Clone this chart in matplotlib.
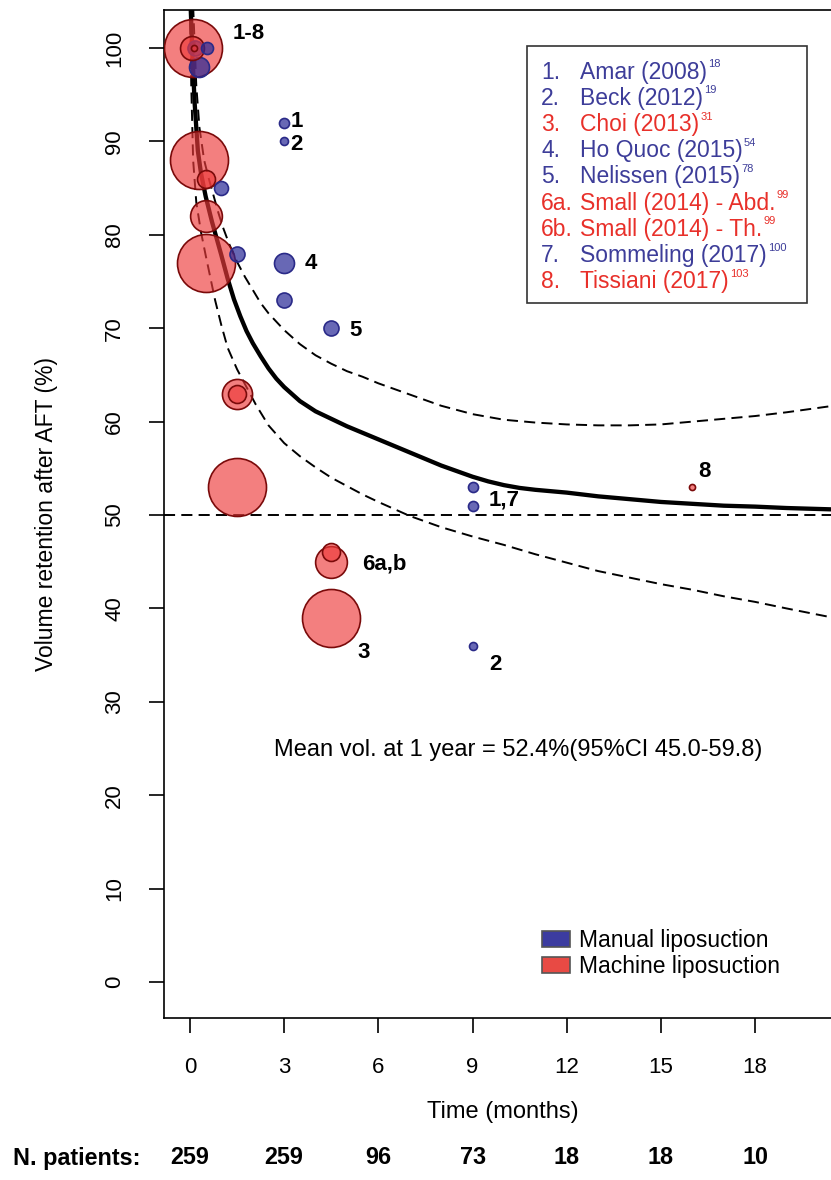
import matplotlib
matplotlib.use("Agg")
import matplotlib.pyplot as plt
from matplotlib.patches import Patch, Rectangle
from matplotlib.transforms import blended_transform_factory
import numpy as np

# ---- data ----
# study number of each bubble (draw order), time (months), retention (%), weight
pt_study = [1, 1, 2, 2, 3, 3, 3, 3, 3, 4, 4, 5, 5, 5, 5, 5,
            6, 6, 6, 6, 6, 6, 6, 7, 7, 8, 8]
pt_t = [3, 9, 3, 9, 0.1, 0.3, 0.5, 1.5, 4.5, 0.3, 3, 0.15, 1.0, 1.5, 3, 4.5,
        0.05, 0.5, 0.5, 1.5, 1.5, 4.5, 4.5, 0.55, 9, 0.12, 16]
pt_v = [92, 53, 90, 36, 100, 88, 77, 53, 39, 98, 77, 100, 85, 78, 73, 70,
        100, 86, 82, 63, 63, 45, 46, 100, 51, 100, 53]
pt_w = [3.0, 3.0, 1.9, 1.9, 100, 100, 100, 100, 100, 11.9, 11.9, 6.7, 5.8, 6.7, 6.7, 6.7,
        17, 9.6, 30, 27, 9.6, 30, 9.6, 4.3, 3.0, 1.1, 1.1]
machine_studies = [3, 6, 8]

# pooled curve and 95% band
mean_t = [0.02, 0.08, 0.15, 0.25, 0.35, 0.5, 0.7, 0.85, 1.0, 1.2, 1.4, 1.6, 1.8,
          2.0, 2.25, 2.5, 2.75, 3.0, 3.5, 4.0, 4.5, 5.0, 5.5, 6.0, 6.5, 7.0, 7.5,
          8.0, 8.5, 9.0, 9.5, 10.0, 10.5, 11.0, 12.0, 13.0, 14.0, 15.0, 16.0,
          17.0, 18.0, 19.0, 20.5]
mean_v = [104.5, 99, 94, 89, 86.6, 84.1, 81.4, 79.6, 77.8, 75.3, 73.1, 71.3, 69.7,
          68.4, 67.0, 65.7, 64.6, 63.7, 62.2, 61.1, 60.3, 59.5, 58.8, 58.1, 57.4,
          56.7, 56.0, 55.3, 54.7, 54.1, 53.6, 53.2, 52.9, 52.7, 52.4, 52.0, 51.7,
          51.4, 51.2, 51.0, 50.9, 50.75, 50.6]
upper_t = [0.1, 0.2, 0.3, 0.45, 0.6, 0.75, 0.9, 1.05, 1.25, 1.5, 1.75, 2.0, 2.25,
           2.5, 3.0, 3.5, 4.0, 4.5, 5.0, 5.5, 6.0, 7.0, 8.0, 9.0, 10.0, 11.0, 12.0,
           13.0, 14.0, 15.0, 16.0, 17.0, 18.0, 19.0, 20.5]
upper_v = [104.5, 96, 91.5, 88, 86, 84.2, 82.4, 80.8, 79, 77.1, 75.5, 74.1, 72.7,
           71.6, 69.8, 68.3, 67.1, 66.2, 65.4, 64.8, 64.1, 62.9, 61.7, 60.8, 60.2,
           59.9, 59.7, 59.6, 59.6, 59.7, 60.0, 60.3, 60.6, 61.0, 61.7]
lower_t = [0.0, 0.04, 0.1, 0.2, 0.35, 0.5, 0.65, 0.8, 1.0, 1.2, 1.5, 1.8, 2.1, 2.5,
           3.0, 3.5, 4.0, 4.5, 5.0, 5.5, 6.0, 7.0, 8.0, 9.0, 10.0, 11.0, 12.0, 13.0,
           14.0, 15.0, 16.0, 17.0, 18.0, 19.0, 20.5]
lower_v = [104.5, 96, 88, 83.5, 80.3, 77.8, 75.4, 73, 70.3, 67.9, 65.6, 63.7, 61.8,
           59.6, 57.7, 56.3, 55.1, 54.0, 53.1, 52.2, 51.4, 49.9, 48.7, 47.7, 46.8,
           45.8, 44.9, 44.0, 43.3, 42.6, 42.0, 41.3, 40.7, 40.0, 39.0]

# point labels
ann_text = ["1-8", "1", "2", "4", "5", "1,7", "8", "6a,b", "3", "2"]
ann_t = [1.37, 3.2, 3.2, 3.66, 5.06, 9.52, 16.2, 5.48, 5.32, 9.52]
ann_v = [101.6, 92.1, 89.7, 76.9, 69.8, 51.6, 54.7, 44.8, 35.3, 34.0]

# study list
study_num = ["1.", "2.", "3.", "4.", "5.", "6a.", "6b.", "7.", "8."]
study_name = ["Amar (2008)", "Beck (2012)", "Choi (2013)", "Ho Quoc (2015)",
              "Nelissen (2015)", "Small (2014) - Abd.", "Small (2014) - Th.",
              "Sommeling (2017)", "Tissiani (2017)"]
study_ref = ["18", "19", "31", "54", "78", "99", "99", "100", "103"]
study_manual = [True, True, False, True, True, False, False, True, False]

xticks = [0, 3, 6, 9, 12, 15, 18]
n_patients = [259, 259, 96, 73, 18, 18, 10]
yticks = list(range(0, 101, 10))

mean_text = "Mean vol. at 1 year = 52.4%(95%CI 45.0-59.8)"

# ---- style ----
BLUE_FILL = (40/255, 40/255, 150/255, 0.7)
BLUE_EDGE = "#2a2a88"
RED_FILL = (238/255, 59/255, 59/255, 0.65)
RED_EDGE = "#7a0a0a"
BLUE_TXT = "#3d3d99"
RED_TXT = "#e8302a"
plt.rcParams["font.family"] = ["Liberation Sans", "DejaVu Sans"]

W, H = 831, 1180
fig = plt.figure(figsize=(W / 100, H / 100), dpi=100)
ax = fig.add_axes([164 / W, 1 - 1018 / H, (833 - 164) / W, (1018 - 10) / H])
ax.set_xlim(-0.828, 20.48)
ax.set_ylim(-3.85, 104.07)

# curves
dash = (0, (5.7, 3.2))
ax.plot(mean_t, mean_v, color="black", lw=3.1, solid_joinstyle="round", zorder=2)
ax.plot(upper_t, upper_v, color="black", lw=1.4, ls=dash, zorder=2)
ax.plot(lower_t, lower_v, color="black", lw=1.4, ls=dash, zorder=2)
ax.axhline(50, color="black", lw=1.4, ls=dash, zorder=2)

# bubbles, radius ~ sqrt(weight); 29 px radius for weight 100
order = np.argsort(pt_study, kind="stable")
for i in order:
    r_px = 29 * np.sqrt(pt_w[i] / 100)
    s = (2 * r_px * 0.72) ** 2
    if pt_study[i] in machine_studies:
        fc, ec = RED_FILL, RED_EDGE
    else:
        fc, ec = BLUE_FILL, BLUE_EDGE
    ax.scatter(pt_t[i], pt_v[i], s=s, facecolor=fc, edgecolor=ec, linewidth=1.2, zorder=3)

for txt, t, v in zip(ann_text, ann_t, ann_v):
    ax.text(t, v, txt, fontsize=16, fontweight="bold", ha="left", va="center", zorder=4)

# study list box
ax.add_patch(Rectangle((10.73, 72.75), 8.93, 27.45, fill=False, edgecolor="#333333", lw=1.2, zorder=4))
row_v0, row_dv = 100 - (72 - 48) / 9.34, 26.2 / 9.34
for k in range(len(study_num)):
    col = BLUE_TXT if study_manual[k] else RED_TXT
    yv = row_v0 - k * row_dv
    ax.text(11.18, yv, study_num[k], color=col, fontsize=16.5, ha="left", va="center", zorder=5)
    nt = ax.text(12.42, yv, study_name[k], color=col, fontsize=16.5, ha="left", va="center", zorder=5)
    ax.annotate(study_ref[k], xy=(1, 1), xycoords=nt, xytext=(0.8, 1), textcoords="offset points",
                color=col, fontsize=8, ha="left", va="top", zorder=5)

ax.text(10.45, 24.8, mean_text, fontsize=17, ha="center", va="center")

handles = [Patch(facecolor="#3c3ca0", edgecolor="#555555", lw=1.2),
           Patch(facecolor="#e84a44", edgecolor="#555555", lw=1.2)]
ax.legend(handles, ["Manual liposuction", "Machine liposuction"], loc="upper left",
          bbox_to_anchor=(0.551, 0.097), frameon=False, fontsize=16.5,
          handlelength=1.22, handleheight=0.7, handletextpad=0.42, labelspacing=0.12,
          borderaxespad=0)

# axes
for side in ["top", "left", "bottom", "right"]:
    ax.spines[side].set_linewidth(1.2)
ax.set_xticks(xticks)
ax.set_yticks(yticks)
ax.tick_params(direction="out", length=11, width=1.2, pad=17)
ax.set_xticklabels([str(x) for x in xticks], fontsize=16)
ax.set_yticklabels([str(y) for y in yticks], fontsize=16, rotation=90, va="center")

fig.text(503 / W, 1 - 1112 / H, "Time (months)", fontsize=17, ha="center", va="center")
fig.text(47 / W, 1 - 514 / H, "Volume retention after AFT (%)", fontsize=16.5,
         rotation=90, ha="center", va="center")

row = blended_transform_factory(ax.transData, fig.transFigure)
fig.text(13 / W, 1 - 1158 / H, "N. patients:", fontsize=16.8,
         fontweight="bold", ha="left", va="center")
for x, n in zip(xticks, n_patients):
    ax.text(x, 1 - 1158 / H, str(n), transform=row, fontsize=16.8,
            fontweight="bold", ha="center", va="center", clip_on=False)

fig.savefig("out.png", dpi=100)
